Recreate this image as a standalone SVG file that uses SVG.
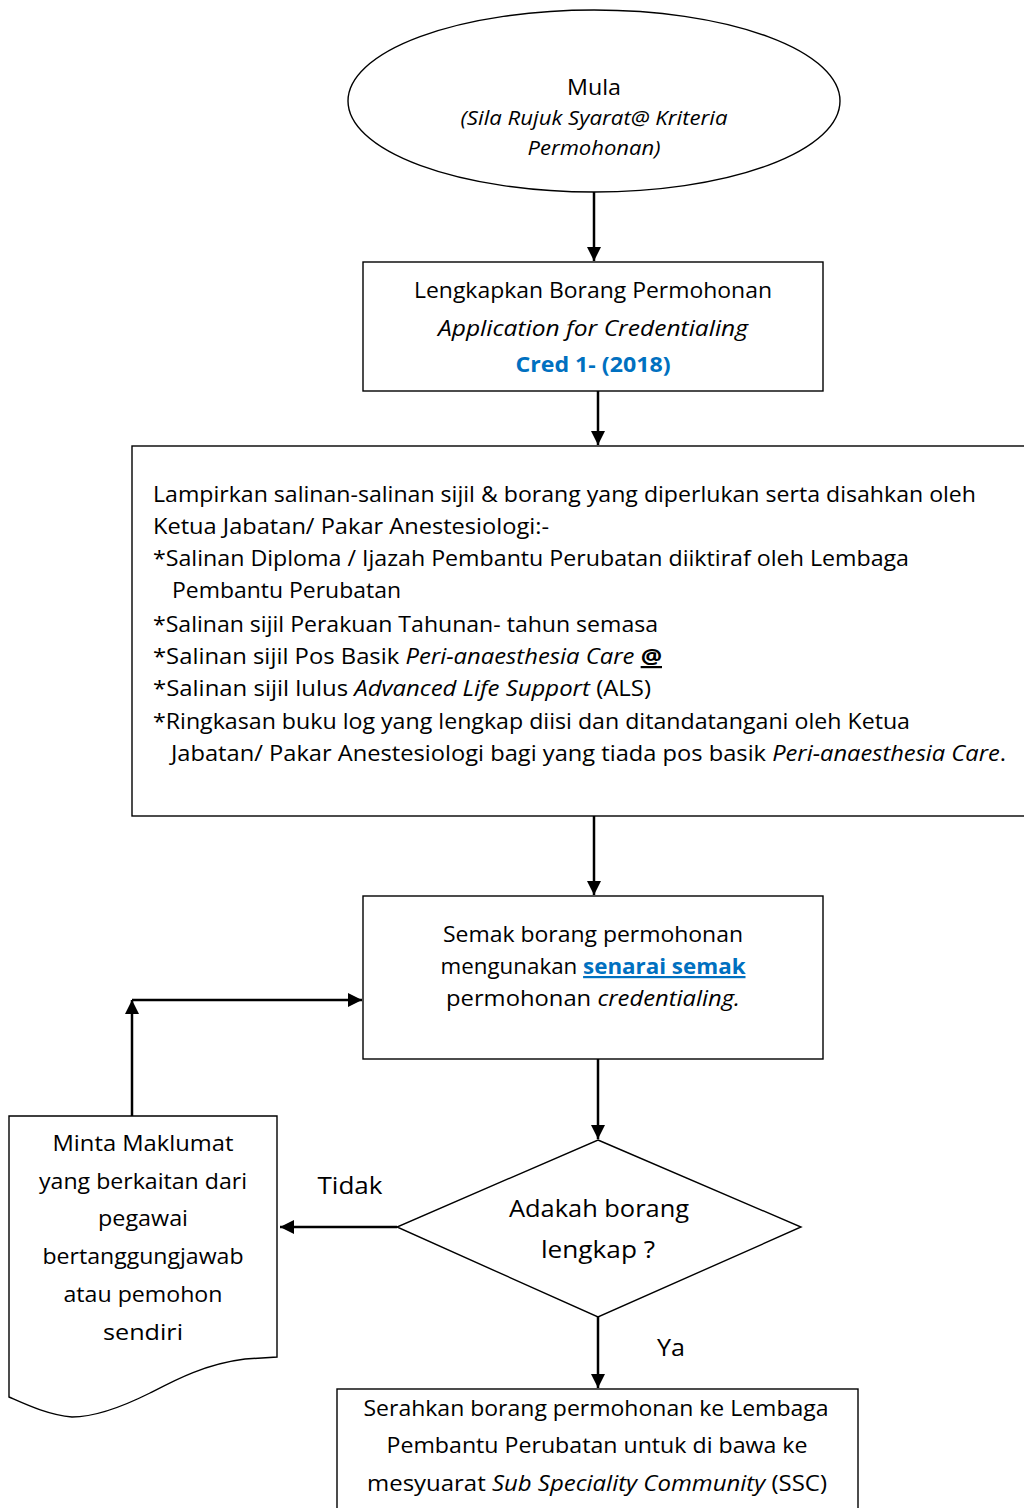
<svg xmlns="http://www.w3.org/2000/svg" width="1024" height="1508" viewBox="0 0 1024 1508">
<defs>
<style>
text{font-family:"Open Sans","Liberation Sans",sans-serif;fill:#000;}
.s22{font-size:22px;}
.s20{font-size:20px;}
.s24{font-size:24px;}
.it{font-style:italic;}
.blue{fill:#0070C0;font-weight:bold;}
.ul{text-decoration:underline;}
.shape{fill:#fff;stroke:#000;stroke-width:1.4;}
.conn{fill:none;stroke:#000;stroke-width:2.5;}
</style>
<marker id="arr" viewBox="0 0 10 10" refX="10" refY="5" markerWidth="14" markerHeight="14" markerUnits="userSpaceOnUse" orient="auto">
<path d="M0,0 L10,5 L0,10 Z" fill="#000"/>
</marker>
</defs>
<rect width="1024" height="1508" fill="#fff"/>

<g id="connectors">
<line class="conn" x1="594" y1="192" x2="594" y2="261" marker-end="url(#arr)"/>
<line class="conn" x1="598" y1="391" x2="598" y2="445" marker-end="url(#arr)"/>
<line class="conn" x1="594" y1="816" x2="594" y2="895" marker-end="url(#arr)"/>
<line class="conn" x1="598" y1="1059" x2="598" y2="1139" marker-end="url(#arr)"/>
<line class="conn" x1="397" y1="1227" x2="280" y2="1227" marker-end="url(#arr)"/>
<line class="conn" x1="598" y1="1317" x2="598" y2="1388" marker-end="url(#arr)"/>
<line class="conn" x1="132" y1="1116" x2="132" y2="1000" marker-end="url(#arr)"/>
<line class="conn" x1="132" y1="1000" x2="362" y2="1000" marker-end="url(#arr)"/>
<text class="s24" x="350" y="1194" text-anchor="middle" textLength="65" lengthAdjust="spacingAndGlyphs">Tidak</text>
<text class="s24" x="671" y="1356" text-anchor="middle" textLength="28" lengthAdjust="spacingAndGlyphs">Ya</text>
</g>

<g id="start">
<ellipse class="shape" cx="594" cy="101" rx="246" ry="91"/>
<text class="s22" x="594" y="95" text-anchor="middle" textLength="54" lengthAdjust="spacingAndGlyphs">Mula</text>
<text class="s20 it" x="594" y="125" text-anchor="middle" textLength="267" lengthAdjust="spacingAndGlyphs">(Sila Rujuk Syarat@ Kriteria</text>
<text class="s20 it" x="594" y="155" text-anchor="middle" textLength="133" lengthAdjust="spacingAndGlyphs">Permohonan)</text>
</g>

<g id="lengkapkan">
<rect class="shape" x="363" y="262" width="460" height="129"/>
<text class="s22" x="593" y="298" text-anchor="middle" textLength="358" lengthAdjust="spacingAndGlyphs">Lengkapkan Borang Permohonan</text>
<text class="s22 it" x="593" y="336" text-anchor="middle" textLength="310" lengthAdjust="spacingAndGlyphs">Application for Credentialing</text>
<text class="s22 blue" x="593" y="372" text-anchor="middle" textLength="155" lengthAdjust="spacingAndGlyphs">Cred 1- (2018)</text>
</g>

<g id="lampirkan">
<rect class="shape" x="132" y="446" width="900" height="370"/>
<text class="s22" x="153" y="502" textLength="823" lengthAdjust="spacingAndGlyphs">Lampirkan salinan-salinan sijil &amp; borang yang diperlukan serta disahkan oleh</text>
<text class="s22" x="153" y="534" textLength="396" lengthAdjust="spacingAndGlyphs">Ketua Jabatan/ Pakar Anestesiologi:-</text>
<text class="s22" x="153" y="566" textLength="756" lengthAdjust="spacingAndGlyphs">*Salinan Diploma / Ijazah Pembantu Perubatan diiktiraf oleh Lembaga</text>
<text class="s22" x="172" y="598" textLength="229" lengthAdjust="spacingAndGlyphs">Pembantu Perubatan</text>
<text class="s22" x="153" y="632" textLength="505" lengthAdjust="spacingAndGlyphs">*Salinan sijil Perakuan Tahunan- tahun semasa</text>
<text class="s22" x="153" y="664" textLength="509" lengthAdjust="spacingAndGlyphs">*Salinan sijil Pos Basik <tspan class="it">Peri-anaesthesia Care</tspan> <tspan font-weight="bold" class="ul">@</tspan></text>
<text class="s22" x="153" y="696" textLength="498" lengthAdjust="spacingAndGlyphs">*Salinan sijil lulus <tspan class="it">Advanced Life Support</tspan> (ALS)</text>
<text class="s22" x="153" y="729" textLength="757" lengthAdjust="spacingAndGlyphs">*Ringkasan buku log yang lengkap diisi dan ditandatangani oleh Ketua</text>
<text class="s22" x="171" y="761" textLength="835" lengthAdjust="spacingAndGlyphs">Jabatan/ Pakar Anestesiologi bagi yang tiada pos basik <tspan class="it">Peri-anaesthesia Care</tspan>.</text>
</g>

<g id="semak">
<rect class="shape" x="363" y="896" width="460" height="163"/>
<text class="s22" x="593" y="942" text-anchor="middle" textLength="300" lengthAdjust="spacingAndGlyphs">Semak borang permohonan</text>
<text class="s22" x="593" y="974" text-anchor="middle" textLength="305" lengthAdjust="spacingAndGlyphs">mengunakan <tspan class="blue ul">senarai semak</tspan></text>
<text class="s22" x="593" y="1006" text-anchor="middle" textLength="294" lengthAdjust="spacingAndGlyphs">permohonan <tspan class="it">credentialing.</tspan></text>
</g>

<g id="decision">
<polygon class="shape" points="598,1140 801,1227 598,1317 397,1227"/>
<text class="s24" x="599" y="1217" text-anchor="middle" textLength="180" lengthAdjust="spacingAndGlyphs">Adakah borang</text>
<text class="s24" x="598" y="1258" text-anchor="middle" textLength="114" lengthAdjust="spacingAndGlyphs">lengkap ?</text>
</g>

<g id="minta">
<path class="shape" d="M9,1116 H277 V1357 L245,1359 C205,1364 175,1380 150,1393 C120,1408 95,1417 72,1417 C48,1415 25,1404 9,1397 Z"/>
<text class="s22" x="143" y="1151" text-anchor="middle" textLength="181" lengthAdjust="spacingAndGlyphs">Minta Maklumat</text>
<text class="s22" x="143" y="1189" text-anchor="middle" textLength="208" lengthAdjust="spacingAndGlyphs">yang berkaitan dari</text>
<text class="s22" x="143" y="1226" text-anchor="middle" textLength="90" lengthAdjust="spacingAndGlyphs">pegawai</text>
<text class="s22" x="143" y="1264" text-anchor="middle" textLength="201" lengthAdjust="spacingAndGlyphs">bertanggungjawab</text>
<text class="s22" x="143" y="1302" text-anchor="middle" textLength="159" lengthAdjust="spacingAndGlyphs">atau pemohon</text>
<text class="s22" x="143" y="1340" text-anchor="middle" textLength="80" lengthAdjust="spacingAndGlyphs">sendiri</text>
</g>

<g id="serahkan">
<rect class="shape" x="337" y="1389" width="521" height="130"/>
<text class="s22" x="596" y="1416" text-anchor="middle" textLength="465" lengthAdjust="spacingAndGlyphs">Serahkan borang permohonan ke Lembaga</text>
<text class="s22" x="597" y="1453" text-anchor="middle" textLength="421" lengthAdjust="spacingAndGlyphs">Pembantu Perubatan untuk di bawa ke</text>
<text class="s22" x="597" y="1491" text-anchor="middle" textLength="460" lengthAdjust="spacingAndGlyphs">mesyuarat <tspan class="it">Sub Speciality Community</tspan> (SSC)</text>
</g>
</svg>
